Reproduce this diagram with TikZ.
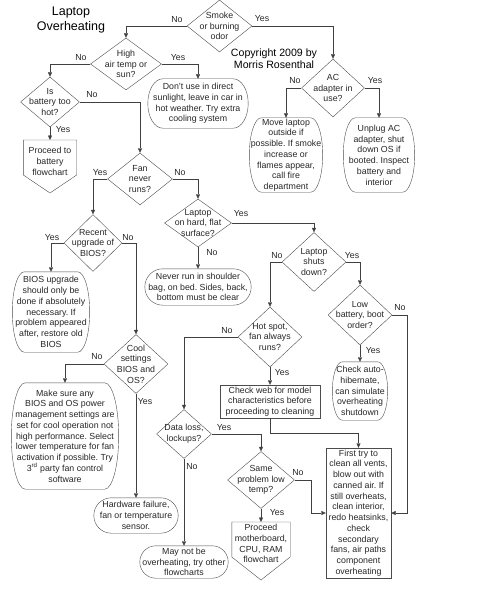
\documentclass[tikz,border=0pt]{standalone}
\usepackage{fontspec}
\setmainfont{Liberation Sans}
\usetikzlibrary{shapes.geometric, arrows.meta, calc}
\frenchspacing

\tikzset{
  txt/.style={font=\fontsize{8.8}{10.75}\selectfont, align=center, inner sep=0pt, text=black!85},
  dec/.style 2 args={diamond, draw=black!70, inner sep=0pt, minimum width=#1, minimum height=#2},
  term/.style 2 args={txt, minimum width=#1, minimum height=#2},
  proc/.style 2 args={txt, draw=black!70, minimum width=#1, minimum height=#2},
  lbl/.style={font=\fontsize{8.8}{10}\selectfont, inner sep=0pt, text=black!85},
  arr/.style={draw=black!75, -{Triangle[length=4.5pt,width=4pt]}},
}

% rounded ends of the terminator boxes
\newcommand{\termframe}[2]{%
  \draw[black!70] let \p1=(#1.north west), \p2=(#1.south east), \n1={(\y1-\y2)/2} in
    (\x1+#2pt,\y1) -- (\x2-#2pt,\y1) arc[start angle=90, end angle=-90, x radius=#2pt, y radius=\n1]
    -- (\x1+#2pt,\y2) arc[start angle=270, end angle=90, x radius=#2pt, y radius=\n1] -- cycle;}

\begin{document}
\begin{tikzpicture}[x=1pt, y=1pt]
  \useasboundingbox (0,0) rectangle (479,-599);

  \node[font=\fontsize{12.5}{15}\selectfont, align=center, inner sep=0pt] (title) at (71,-19.5) {Laptop\\Overheating};
  \node[font=\fontsize{10.6}{12}\selectfont, align=center, inner sep=0pt] (copy) at (274,-59) {Copyright 2009 by\\Morris Rosenthal};

  % decisions
  \node[dec={65}{52}, label={[txt]center:{Smoke\\or burning\\odor}}] (smoke) at (219.5,-26) {};
  \node[dec={71}{52}, label={[txt]center:{High\\air temp or\\sun?}}] (high) at (126,-64) {};
  \node[dec={63}{58}, label={[txt]center:{AC\\adapter in\\use?}}] (ac) at (333,-88) {};
  \node[dec={59}{50}, label={[txt]center:{Is\\battery too\\hot?}}] (bat) at (50,-102) {};
  \node[dec={65}{52}, label={[txt]center:{Fan\\never\\runs?}}] (fan) at (140,-179) {};
  \node[dec={67}{48}, label={[txt]center:{Laptop\\on hard, flat\\surface?}}] (hard) at (198,-223) {};
  \node[dec={58}{57}, label={[txt]center:{Recent\\upgrade of\\BIOS?}}] (recent) at (93,-243) {};
  \node[dec={64}{59}, label={[txt]center:{Laptop\\shuts\\down?}}] (shuts) at (314,-262) {};
  \node[dec={64}{60}, label={[txt]center:{Low\\battery, boot\\order?}}] (low) at (360,-315) {};
  \node[dec={64}{60}, label={[txt]center:{Hot spot,\\fan always\\runs?}}] (hot) at (270,-337) {};
  \node[dec={64}{59}, label={[txt]center:{Cool\\settings\\BIOS and\\OS?}}] (cool) at (136,-364) {};
  \node[dec={55}{49}, label={[txt]center:{Data loss,\\lockups?}}] (data) at (184,-434) {};
  \node[dec={67}{57}, label={[txt]center:{Same\\problem low\\temp?}}] (same) at (261,-480) {};

  % terminators
  \node[term={100}{49}] (sun) at (198,-103.5) {Don't use in direct\\sunlight, leave in car in\\hot weather. Try extra\\cooling system};
  \node[term={73}{74}] (move) at (286,-155) {Move laptop\\outside if\\possible. If smoke\\increase or\\flames appear,\\call fire\\department};
  \node[term={71}{74}] (unplug) at (379,-155) {Unplug AC\\adapter, shut\\down OS if\\booted. Inspect\\battery and\\interior};
  \node[term={106}{36}] (never) at (198,-287) {Never run in shoulder\\bag, on bed. Sides, back,\\bottom must be clear};
  \node[term={77}{80}] (bios) at (51,-312) {BIOS upgrade\\should only be\\done if absolutely\\necessary. If\\problem appeared\\after, restore old\\BIOS};
  \node[term={107}{106}] (make) at (65,-436) {Make sure any\\BIOS and OS power\\management settings are\\set for cool operation not\\high performance. Select\\lower temperature for fan\\activation if possible. Try\\3\textsuperscript{rd} party fan control\\software};
  \node[term={84}{35}] (hw) at (136,-515.5) {Hardware failure,\\fan or temperature\\sensor.};
  \node[term={55}{58}] (auto) at (360,-391) {Check auto-\\hibernate,\\can simulate\\overheating\\shutdown};
  \node[term={88}{32}] (maynot) at (184,-562) {May not be\\overheating, try other\\flowcharts};
  \foreach \t/\r in {sun/15, move/12, unplug/12, never/18, bios/12, make/14, hw/17.5, auto/10, maynot/16}
    {\termframe{\t}{\r}}

  % processes
  \node[proc={100}{33}] (web) at (270,-401.5) {Check web for model\\characteristics before\\proceeding to cleaning};
  \node[proc={65}{130}] (first) at (358.5,-513) {First try to\\clean all vents,\\blow out with\\canned air. If\\still overheats,\\clean interior,\\redo heatsinks,\\check\\secondary\\fans, air paths\\component\\overheating};

  % off-page connectors
  \node[term={53}{42}, anchor=north] (procbat) at (50,-140) {Proceed to\\battery\\flowchart};
  \node[term={58}{43}, anchor=north] (procmb) at (261,-522) {Proceed\\motherboard,\\CPU, RAM\\flowchart};
  \draw[black!70] (procbat.north west) -- (procbat.north east) -- ++(0,-35)
    -- ([yshift=-53pt]procbat.north) -- ([yshift=-35pt]procbat.north west) -- cycle;
  \draw[black!70] (procmb.north west) -- (procmb.north east) -- ++(0,-35)
    -- ([yshift=-58pt]procmb.north) -- ([yshift=-35pt]procmb.north west) -- cycle;

  % connectors
  \coordinate (lowturn) at (407,-315);
  \coordinate (webturn) at (270,-433);
  \coordinate (sameturn) at (311,-480);
  \draw[arr] (smoke.west) -| (high.north);
  \draw[arr] (smoke.east) -| (ac.north);
  \draw[arr] (high.west) -| (bat.north);
  \draw[arr] (high.east) -| (sun.north);
  \draw[arr] (ac.west) -| (move.north);
  \draw[arr] (ac.east) -| (unplug.north);
  \draw[arr] (bat.south) -- (procbat.north);
  \draw[arr] (bat.east) -| (fan.north);
  \draw[arr] (fan.west) -| (recent.north);
  \draw[arr] (fan.east) -| (hard.north);
  \draw[arr] (recent.west) -| (bios.north);
  \draw[arr] (recent.east) -| (cool.north);
  \draw[arr] (cool.west) -| (make.north);
  \draw[arr] (cool.south) -- (hw.north);
  \draw[arr] (hard.south) -- (never.north);
  \draw[arr] (hard.east) -| (shuts.north);
  \draw[arr] (shuts.west) -| (hot.north);
  \draw[arr] (shuts.east) -| (low.north);
  \draw[arr] (low.south) -- (auto.north);
  \draw[arr] (low.east) -- (lowturn) |- (first.east);
  \draw[arr] (hot.west) -| (data.north);
  \draw[arr] (hot.south) -- (web.north);
  \draw[arr] (web.south) -- (webturn) -| (first.north);
  \draw[arr] (data.east) -| (same.north);
  \draw[arr] (data.south) -- (maynot.north);
  \draw[arr] (same.east) -- (sameturn) |- (first.west);
  \draw[arr] (same.south) -- (procmb.north);

  % yes / no labels
  \node[lbl] (smokeno) at (177,-20) {No};
  \node[lbl] (smokeyes) at (262,-19) {Yes};
  \node[lbl] (highno) at (81,-58) {No};
  \node[lbl] (highyes) at (178,-58) {Yes};
  \node[lbl] (acno) at (295,-81) {No};
  \node[lbl] (acyes) at (375,-81) {Yes};
  \node[lbl] (batno) at (92,-95) {No};
  \node[lbl] (batyes) at (63,-130) {Yes};
  \node[lbl] (fanyes) at (100,-173) {Yes};
  \node[lbl] (fanno) at (180,-173) {No};
  \node[lbl] (recentyes) at (52,-238) {Yes};
  \node[lbl] (recentno) at (128,-238) {No};
  \node[lbl] (hardyes) at (241,-214) {Yes};
  \node[lbl] (hardno) at (212,-253) {No};
  \node[lbl] (shutsno) at (277,-256) {No};
  \node[lbl] (shutsyes) at (352,-256) {Yes};
  \node[lbl] (lowno) at (400,-308) {No};
  \node[lbl] (lowyes) at (373,-351) {Yes};
  \node[lbl] (hotno) at (227,-331) {No};
  \node[lbl] (hotyes) at (282,-373) {Yes};
  \node[lbl] (coolno) at (97,-357) {No};
  \node[lbl] (coolyes) at (145,-402) {Yes};
  \node[lbl] (datayes) at (224,-428) {Yes};
  \node[lbl] (datano) at (192,-467) {No};
  \node[lbl] (sameno) at (298,-473) {No};
  \node[lbl] (sameyes) at (277,-513) {Yes};
\end{tikzpicture}
\end{document}
